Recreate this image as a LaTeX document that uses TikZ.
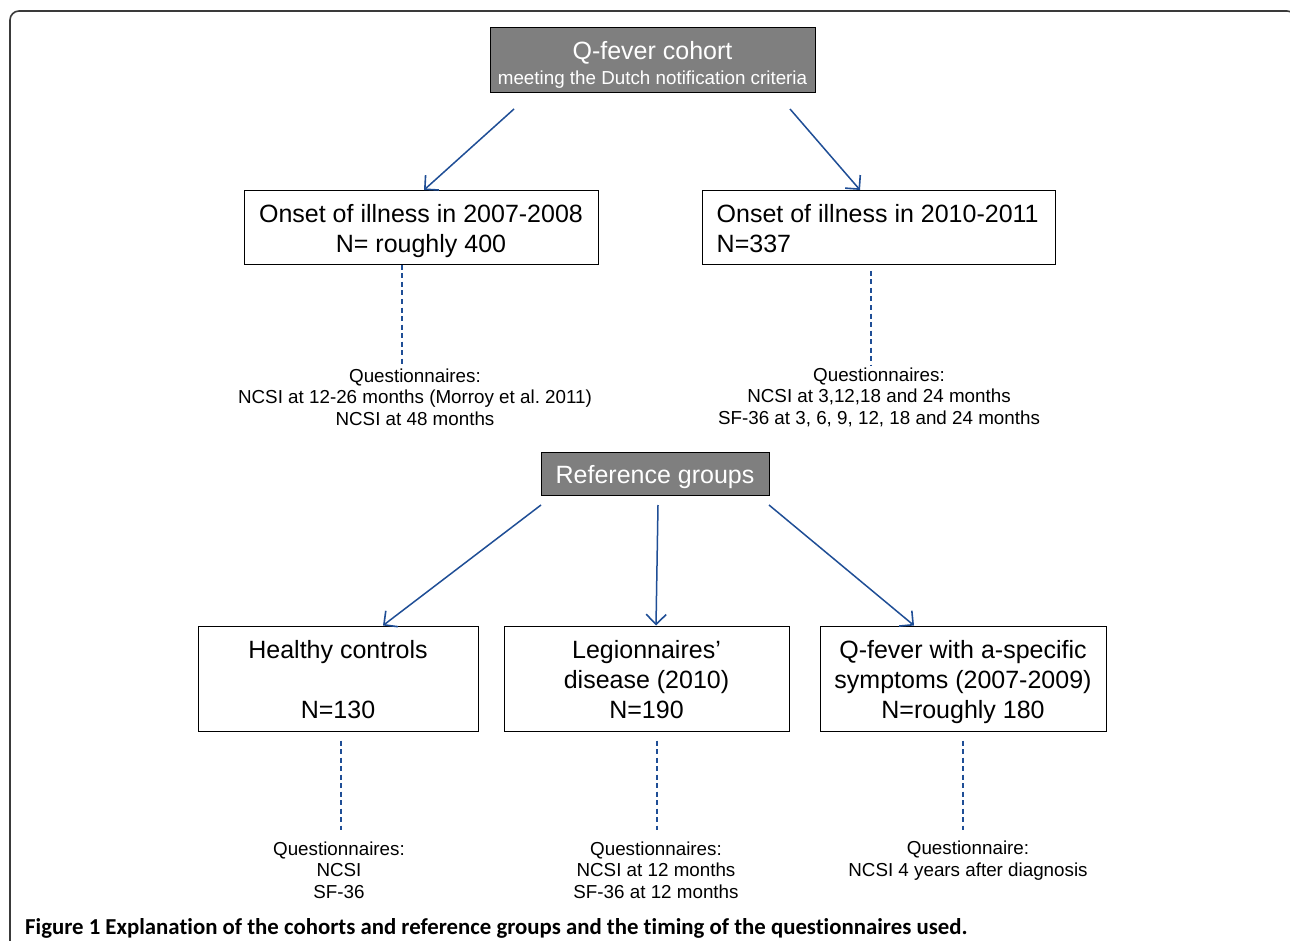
\documentclass[tikz,border=0pt]{standalone}
\usepackage{fontspec}
\setmainfont{Liberation Sans}
\newfontfamily\capfont[Ligatures={NoCommon}]{Carlito}
\usetikzlibrary{arrows.meta,calc}
\definecolor{arrblue}{HTML}{1F4E96}
\definecolor{boxgray}{HTML}{7F7F7F}
\definecolor{framegray}{HTML}{3A3A3A}
\frenchspacing
\tikzset{
  whitebox/.style={draw=black, line width=1pt, fill=white, inner sep=0pt},
  graybox/.style={draw=black, line width=1pt, fill=boxgray, inner sep=0pt},
  btext/.style={align=center, inner sep=0pt, font=\fontsize{25}{30}\selectfont},
  wtext/.style={btext, text=white},
  qtext/.style={align=center, inner sep=0pt, font=\fontsize{18.8}{21.6}\selectfont},
  arr/.style={draw=arrblue, line width=1.5pt, -{Straight Barb[length=10pt,width=20pt,line width=1.6pt]}},
  dline/.style={draw=arrblue, line width=1.3pt, dash pattern=on 5pt off 3.5pt},
}
\begin{document}
\begin{tikzpicture}[x=1pt,y=-1pt]
\useasboundingbox (0,0) rectangle (1290,941);
\clip (0,0) rectangle (1290,941);
\fill[white] (0,0) rectangle (1290,941);
\draw[framegray, line width=1.6pt, rounded corners=9pt] (10,980) -- (10,11) -- (1296,11) -- (1296,980);

% top cohort
\node[graybox, minimum width=325pt, minimum height=65pt,
  label={[wtext,yshift=-4pt]center:{Q-fever cohort\\[-5pt]{\fontsize{18.8}{22}\selectfont meeting the Dutch notification criteria}}}] (qf) at (652.5,60.5) {};
\node[whitebox, minimum width=354pt, minimum height=74pt,
  label={[btext,yshift=-4pt]center:{Onset of illness in 2007-2008\\N= roughly 400}}] (onL) at (421,227.5) {};
\node[whitebox, minimum width=353pt, minimum height=74pt,
  label={[btext,align=left,anchor=west,xshift=15pt,yshift=-1pt]west:{Onset of illness in 2010-2011\\N=337}}] (onR) at (878.5,227.5) {};

\coordinate (s1) at (514,109);
\coordinate (s2) at (790,109);
\draw[arr] (s1) -- ($(onL.north)+(3,0)$);
\draw[arr] (s2) -- ($(onR.north)+(-18.5,0)$);

\node[qtext] (qL) at (415,397)
  {Questionnaires:\\NCSI at 12-26 months (Morroy et al. 2011)\\NCSI at 48 months};
\node[qtext] (qR) at (879,397)
  {Questionnaires:\\NCSI at 3,12,18 and 24 months\\SF-36 at 3, 6, 9, 12, 18 and 24 months};
\coordinate (dL) at (402,365);
\coordinate (dR) at (871,365);
\draw[dline] ($(onL.south)+(-19,0)$) -- (dL);
\draw[dline] ($(onR.south)+(-7.5,6)$) -- (dR);

% reference groups
\node[graybox, minimum width=228pt, minimum height=43pt,
  label={[wtext,yshift=-4pt]center:{Reference groups}}] (ref) at (655,473.5) {};
\node[whitebox, minimum width=280pt, minimum height=105pt,
  label={[btext,yshift=-1.5pt]center:{Healthy controls\\[30pt]N=130}}] (hc) at (338,678.5) {};
\node[whitebox, minimum width=285pt, minimum height=105pt,
  label={[btext,yshift=-1.5pt]center:{Legionnaires’\\disease (2010)\\N=190}}] (lg) at (646.5,678.5) {};
\node[whitebox, minimum width=286pt, minimum height=105pt,
  label={[btext,yshift=-4pt]center:{Q-fever with a-specific\\symptoms (2007-2009)\\N=roughly 180}}] (qs) at (963,678.5) {};

\coordinate (r1) at (541,505);
\coordinate (r2) at (658,505);
\coordinate (r3) at (769,505);
\draw[arr] (r1) -- ($(hc.north)+(45,0)$);
\draw[arr] (r2) -- ($(lg.north)+(9.5,0)$);
\draw[arr] (r3) -- ($(qs.north)+(-49,0)$);

\node[qtext] (q1) at (339,870) {Questionnaires:\\NCSI\\SF-36};
\node[qtext] (q2) at (656,870) {Questionnaires:\\NCSI at 12 months\\SF-36 at 12 months};
\node[qtext] (q3) at (968,860.5) {Questionnaire:\\NCSI 4 years after diagnosis};
\coordinate (d1) at (341,830);
\coordinate (d2) at (657,830);
\coordinate (d3) at (963,830);
\draw[dline] ($(hc.south)+(3,9)$) -- (d1);
\draw[dline] ($(lg.south)+(10.5,9)$) -- (d2);
\draw[dline] ($(qs.south)+(0,9)$) -- (d3);

\node[anchor=base west, inner sep=0pt, font=\capfont\bfseries\fontsize{22.8}{25}\selectfont] (cap) at (25,934)
  {Figure 1 Explanation of the cohorts and reference groups and the timing of the questionnaires used.};
\end{tikzpicture}
\end{document}
